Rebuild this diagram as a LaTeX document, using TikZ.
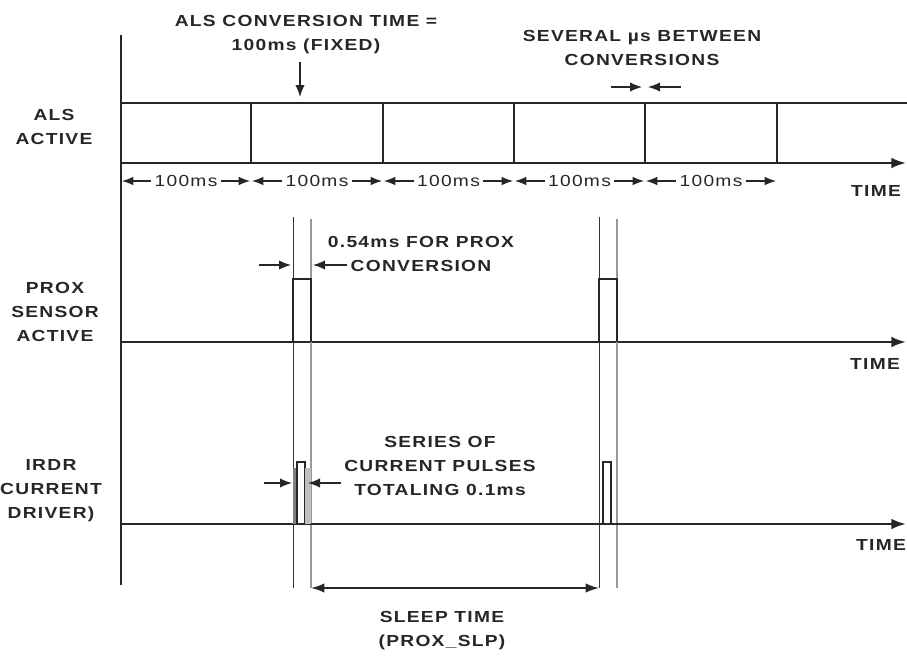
\documentclass[tikz,border=0pt]{standalone}
\usepackage{fontspec}
\setmainfont{Liberation Sans}[FakeStretch=1.2,LetterSpace=8]
\usetikzlibrary{arrows.meta}
\begin{document}
\begin{tikzpicture}[x=0.75pt,y=-0.75pt,
  axisline/.style={line width=1.7pt,black!85},
  divline/.style={line width=1.4pt,black!85},
  pulseline/.style={line width=1pt,black!85},
  guideK/.style={line width=0.7pt,black!80},
  guideG/.style={line width=0.9pt,black!40},
  axistip/.style={-{Latex[length=11pt,width=8pt]}},
  smallarr/.style={line width=0.9pt,black!85,-{Latex[length=9pt,width=7pt]}},
  dimarr/.style={line width=0.8pt,black!85,-{Latex[length=8.5pt,width=6.5pt]}},
  sleeparr/.style={line width=1.2pt,black!85,{Latex[length=10pt,width=7pt]}-{Latex[length=10pt,width=7pt]}},
  lbl/.style={font=\fontsize{12}{18}\selectfont\bfseries,align=center,inner sep=0pt,text=black!85},
  mslbl/.style={font=\fontsize{12}{18}\selectfont,inner sep=2.5pt,text=black!85}]
\useasboundingbox (0,0) rectangle (907,657);
% main vertical axis
\coordinate (vtop) at (121,35);
\coordinate (vbot) at (121,585);
\draw[axisline] (vtop) -- (vbot);
% ---------------- ALS row
\coordinate (alsL) at (121,163);
\coordinate (alsR) at (906,163);
\draw[axisline,axistip] (alsL) -- (alsR);
\coordinate (topL) at (121,103);
\coordinate (topR) at (907,103);
\draw[divline] (topL) -- (topR);
\foreach \x [count=\i] in {251,383,514,645,777}{
  \coordinate (dt\i) at (\x,103);
  \coordinate (db\i) at (\x,163);
  \draw[divline] (dt\i) -- (db\i);
}
\foreach \a/\b [count=\i] in {121/251,251/383,383/514,514/645,645/777}{
  \coordinate (dl\i) at (\a+1,181);
  \coordinate (dr\i) at (\b-1,181);
  \node[mslbl] (m\i) at ({(\a+\b)/2},181) {100ms};
  \draw[dimarr] (m\i.west) -- (dl\i);
  \draw[dimarr] (m\i.east) -- (dr\i);
}
\node[lbl] (alslbl) at (54,127) {ALS\\ACTIVE};
\node[lbl] (time1) at (876,191) {TIME};
% title
\node[lbl] (t1) at (306,35) {ALS CONVERSION TIME =\\100ms (FIXED)};
\coordinate (a1s) at (300,62);
\coordinate (a1e) at (300,97);
\draw[smallarr] (a1s) -- (a1e);
% several us
\node[lbl] (t2) at (642,47.5) {SEVERAL µs BETWEEN\\CONVERSIONS};
\coordinate (g1) at (611,87);
\coordinate (g2) at (642,87);
\coordinate (g3) at (681,87);
\coordinate (g4) at (648,87);
\draw[smallarr] (g1) -- (g2);
\draw[smallarr] (g3) -- (g4);
% ---------------- PROX row
\coordinate (pxL) at (121,342);
\coordinate (pxR) at (906,342);
\draw[axisline,axistip] (pxL) -- (pxR);
\node[lbl] (pxlbl) at (55,312) {PROX\\SENSOR\\ACTIVE};
\node[lbl] (time2) at (875,364) {TIME};
% guide lines
\coordinate (k1t) at (293,217); \coordinate (k1b) at (293,588);
\coordinate (k2t) at (311,219); \coordinate (k2b) at (311,588);
\coordinate (k3t) at (599,217); \coordinate (k3b) at (599,588);
\coordinate (k4t) at (617,219); \coordinate (k4b) at (617,588);
\draw[guideK] (k1t) -- (k1b);
\draw[guideG] (k2t) -- (k2b);
\draw[guideK] (k3t) -- (k3b);
\draw[guideG] (k4t) -- (k4b);
% prox pulses
\draw[pulseline] (293,342) -- (293,279) -- (311,279) -- (311,342);
\draw[pulseline] (599,342) -- (599,279) -- (617,279) -- (617,342);
\node[lbl] (t3) at (421,254) {0.54ms FOR PROX\\CONVERSION};
\coordinate (p1) at (259,265);
\coordinate (p2) at (291,265);
\coordinate (p3) at (347,265);
\coordinate (p4) at (313,265);
\draw[smallarr] (p1) -- (p2);
\draw[smallarr] (p3) -- (p4);
% ---------------- IRDR row
\coordinate (irL) at (121,524);
\coordinate (irR) at (906,524);
\draw[axisline,axistip] (irL) -- (irR);
\node[lbl] (irlbl) at (51,491) {IRDR\\CURRENT\\DRIVER)};
\node[lbl] (time3) at (881,545) {TIME};
\fill[black!50] (293,468) rectangle (297,524);
\draw[pulseline] (297,524) -- (297,462) -- (305,462) -- (305,524);
\fill[black!25] (305,468) rectangle (311,524);
\draw[pulseline] (603,524) -- (603,462) -- (611,462) -- (611,524);
\node[lbl] (t4) at (440,466) {SERIES OF\\CURRENT PULSES\\TOTALING 0.1ms};
\coordinate (q1) at (264,483);
\coordinate (q2) at (292,483);
\coordinate (q3) at (341,483);
\coordinate (q4) at (308,483);
\draw[smallarr] (q1) -- (q2);
\draw[smallarr] (q3) -- (q4);
% sleep time
\draw[sleeparr] (k2b) -- (k3b);
\node[lbl] (t5) at (442,631) {SLEEP TIME\\(PROX\_SLP)};
\end{tikzpicture}
\end{document}
